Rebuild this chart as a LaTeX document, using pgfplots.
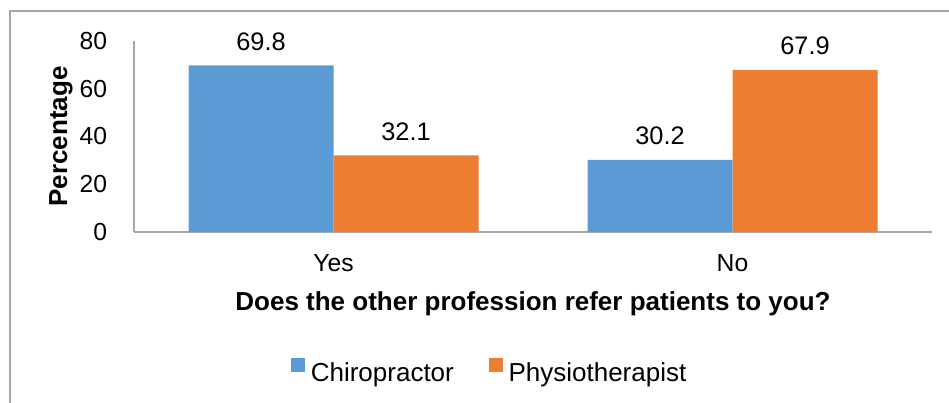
\documentclass[border=0pt]{standalone}
\usepackage{pgfplots}
\pgfplotsset{compat=1.18}
\usepackage{fontspec}
\setmainfont{Liberation Sans}
\definecolor{cblue}{HTML}{5B9BD5}
\definecolor{corange}{HTML}{ED7D31}
\definecolor{axgray}{HTML}{A6A6A6}
\newcommand{\tfs}{\fontsize{18.5}{22}\selectfont}
\begin{document}
\begin{tikzpicture}
\path[use as bounding box] (0,0) rectangle (711.75pt,302.25pt);
\draw[axgray, line width=0.9pt] (7.5pt,0) -- (7.5pt,294pt) -- (711.75pt,294pt);
\begin{axis}[
  at={(100.5pt,128.25pt)}, anchor=south west,
  scale only axis, width=598.5pt, height=143.25pt,
  ybar=0pt, bar width=108.75pt,
  xmin=-0.5, xmax=1.5, ymin=0, ymax=80,
  xtick={0,1}, xticklabels={{\hbox{\tfs Yes}},{\hbox{\tfs No}}},
  ytick={0,20,40,60,80},
  yticklabels={{\hbox{\tfs 0}},{\hbox{\tfs 20}},{\hbox{\tfs 40}},{\hbox{\tfs 60}},{\hbox{\tfs 80}}},
  axis x line*=bottom, axis y line*=left,
  axis line style={axgray, line width=0.9pt},
  x axis line style={-}, y axis line style={-},
  major tick length=0pt,
  tick style={draw=none},
  yticklabel style={anchor=east, inner sep=0pt, xshift=-20pt},
  xticklabel style={anchor=base, inner sep=0pt, yshift=-30pt},
  xlabel={Does the other profession refer patients to you?},
  xlabel style={at={(axis description cs:0.5,-0.4136)}, anchor=base, inner sep=0pt, font=\bfseries\fontsize{19.5}{23}\selectfont},
  ylabel={Percentage},
  ylabel style={at={(axis description cs:-0.0915,0.5)}, anchor=center, inner sep=0pt, font=\bfseries\fontsize{19.5}{23}\selectfont},
  nodes near coords={\hbox{\fontsize{19}{23}\selectfont\pgfmathprintnumber[assume math mode=true, fixed, precision=1, fixed zerofill]{\pgfplotspointmeta}}},
  every node near coord/.append style={inner sep=0pt, yshift=11pt},
  legend columns=2,
  legend style={at={(axis description cs:0.446,-0.733)}, anchor=center, draw=none, fill=none,
    font=\fontsize{19.5}{23}\selectfont,
    /tikz/every even column/.append style={column sep=24pt}},
  legend image code/.code={\fill[#1] (0pt,1.25pt) rectangle (10.5pt,11.75pt); \path (13pt,0pt);},
]
\addplot[fill=cblue, draw=none] coordinates {(0,69.8) (1,30.2)};
\addplot[fill=corange, draw=none] coordinates {(0,32.1) (1,67.9)};
\legend{Chiropractor, Physiotherapist}
\end{axis}
\end{tikzpicture}
\end{document}
